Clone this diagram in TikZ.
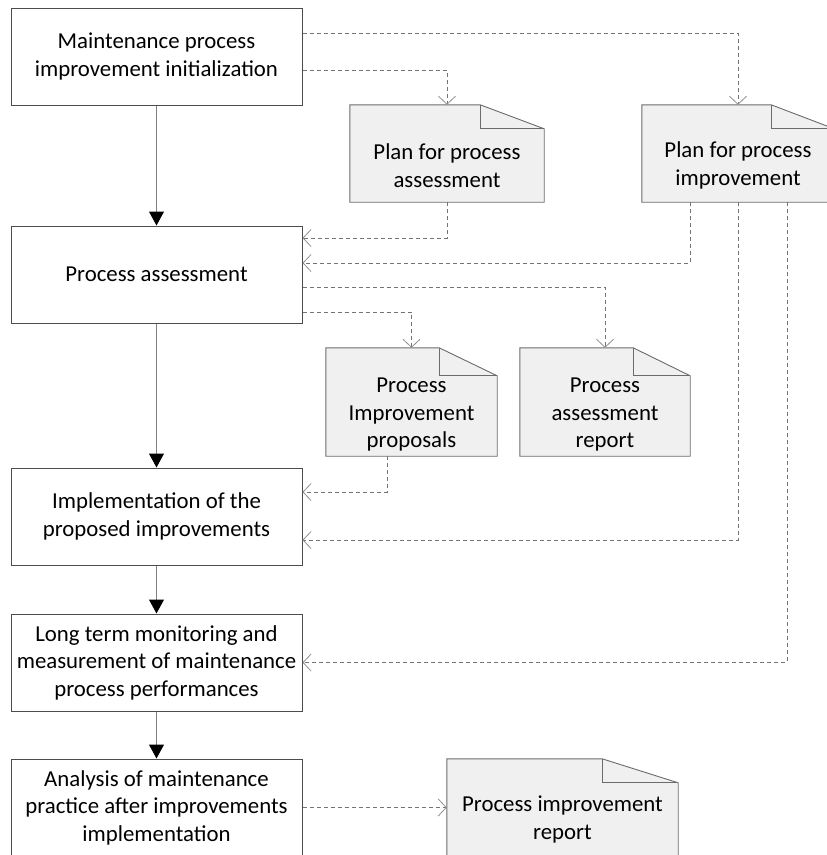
\documentclass[tikz,border=0pt]{standalone}
\usepackage{fontspec}
\setmainfont{Carlito}
\usetikzlibrary{arrows.meta,backgrounds}
\definecolor{boxline}{rgb}{0.3,0.3,0.3}
\definecolor{docline}{rgb}{0.42,0.42,0.42}
\definecolor{docfill}{rgb}{0.94,0.94,0.94}
\definecolor{depline}{rgb}{0.45,0.45,0.45}
\definecolor{flowline}{rgb}{0.5,0.5,0.5}

\begin{document}
\begin{tikzpicture}
      [x = 1pt, y = -1pt,
      font = \fontsize{22.8}{27.5}\selectfont,
      step box/.style= {
         draw = boxline,
         line width = 1pt,
         rectangle,
         align = center,
         inner sep = 0pt,
         minimum width = 291pt,
         minimum height = 97pt
      },
      doc/.style= {
         rectangle,
         inner sep = 0pt
      },
      doctext/.style= {
         align = center,
         inner sep = 0pt,
         yshift = -12pt
      },
      docpath/.style= {
         draw = docline,
         fill = docfill,
         line width = 0.9pt
      },
      flow/.style= {
         draw = flowline,
         line width = 1pt,
         -{Triangle[length=14pt,width=15pt,color=black]}
      },
      dep/.style= {
         draw = depline,
         line width = 0.8pt,
         dash pattern = on 4pt off 3pt,
         -{Straight Barb[length=8pt,width=17pt,color=depline!80,line width=0.8pt]}
      }]

      \useasboundingbox (0,0) rectangle (827,855);
      \clip (0,0) rectangle (827,855);

      \node[step box] (init) at (156.5,56.5) {Maintenance process\\improvement initialization};
      \node[step box] (assess) at (156.5,274.5) {Process assessment};
      \node[step box] (impl) at (156.5,516.5) {Implementation of the\\proposed improvements};
      \node[step box] (monitor) at (156.5,662.5) {Long term monitoring and\\measurement of maintenance\\process performances};
      \node[step box] (analysis) at (156.5,807.5) {Analysis of maintenance\\practice after improvements\\implementation};

      \node[doc, minimum width = 194pt, minimum height = 97pt,
         label = {[doctext]center:Plan for process\\assessment}] (planA) at (447,153.5) {};
      \node[doc, minimum width = 192pt, minimum height = 97pt,
         label = {[doctext]center:Plan for process\\improvement}] (planB) at (738,153.5) {};
      \node[doc, minimum width = 171pt, minimum height = 108pt,
         label = {[doctext, yshift = -1pt]center:Process\\Improvement\\proposals}] (props) at (411.5,402) {};
      \node[doc, minimum width = 170pt, minimum height = 108pt,
         label = {[doctext, yshift = -1pt]center:Process\\assessment\\report}] (arep) at (605,402) {};
      \node[doc, minimum width = 231pt, minimum height = 97pt,
         label = {[doctext]center:Process improvement\\report}] (irep) at (562.5,807.5) {};

      \begin{pgfonlayer}{background}
      \foreach \d/\fw/\fh in {planA/64/24, planB/63/24, props/58/28, arep/57/28, irep/76/24} {
         \path[docpath] (\d.north west) -- ([xshift=-\fw pt]\d.north east)
            -- ([yshift=-\fh pt]\d.north east) -- (\d.south east) -- (\d.south west) -- cycle;
         \draw[docpath, fill = none] ([xshift=-\fw pt]\d.north east) |- ([yshift=-\fh pt]\d.north east);
      }
      \end{pgfonlayer}

      \draw[flow] (init.south) -- (assess.north);
      \draw[flow] (assess.south) -- (impl.north);
      \draw[flow] (impl.south) -- (monitor.north);
      \draw[flow] (monitor.south) -- (analysis.north);

      \draw[dep] ([yshift=23.5pt]init.east) -| (planB.north);
      \draw[dep] ([yshift=-13.5pt]init.east) -| (planA.north);
      \draw[dep] (planA.south) |- ([yshift=36.5pt]assess.east);
      \draw[dep] ([xshift=-48pt]planB.south) |- ([yshift=11.5pt]assess.east);
      \draw[dep] ([yshift=-12.5pt]assess.east) -| (arep.north);
      \draw[dep] ([yshift=-37.5pt]assess.east) -| (props.north);
      \draw[dep] ([xshift=-24.5pt]props.south) |- ([yshift=24.5pt]impl.east);
      \draw[dep] (planB.south) |- ([yshift=-23.5pt]impl.east);
      \draw[dep] ([xshift=49pt]planB.south) |- (monitor.east);
      \draw[dep] (analysis.east) -- (irep.west);

   \end{tikzpicture}
\end{document}
